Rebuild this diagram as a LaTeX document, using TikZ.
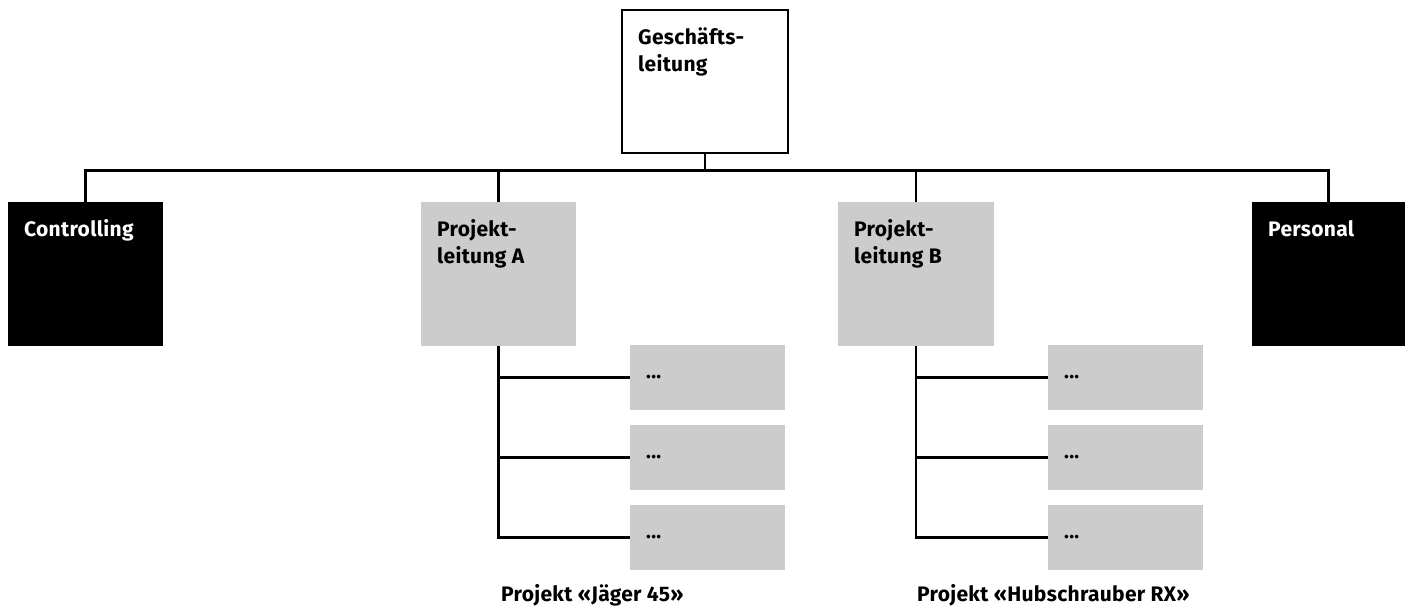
\documentclass[tikz,border=0pt]{standalone}
\usepackage{fontspec}
\setmainfont[LetterSpace=1.5]{Fira Sans}
\usetikzlibrary{calc}
\definecolor{boxgray}{HTML}{CCCCCC}
\begin{document}
\begin{tikzpicture}[x=1pt,y=-1pt,
  box/.style={rectangle, inner sep=0pt, outer sep=0pt, anchor=north west},
  whitebox/.style={box, fill=white, draw=black, line width=1.1pt},
  graybox/.style={box, fill=boxgray},
  blackbox/.style={box, fill=black},
  conn/.style={line width=2.6pt, black},
  lbl/.style={anchor=base west, inner sep=0pt, font=\bfseries\fontsize{21}{27.5}\selectfont},
  dots/.style={anchor=west, inner sep=0pt, font=\bfseries\fontsize{20}{24}\selectfont}
]
\useasboundingbox[fill=white] (0,0) rectangle (1413,608);
\newcommand{\twoline}[2]{\renewcommand{\arraystretch}{1}\begin{tabular}[t]{@{}l@{}}#1\\#2\end{tabular}}

% main boxes
\node[whitebox, minimum width=166pt, minimum height=143pt] (gl) at (622,10) {};
\node[blackbox, minimum width=155pt, minimum height=144pt] (ctrl) at (8,202) {};
\node[graybox, minimum width=155pt, minimum height=144pt] (pa) at (421,202) {};
\node[graybox, minimum width=156pt, minimum height=144pt] (pb) at (838,202) {};
\node[blackbox, minimum width=153pt, minimum height=144pt] (pers) at (1252,202) {};

% sub boxes
\node[graybox, minimum width=155pt, minimum height=65pt] (a1) at (630,345) {};
\node[graybox, minimum width=155pt, minimum height=65pt] (a2) at (630,425) {};
\node[graybox, minimum width=155pt, minimum height=65pt] (a3) at (630,505) {};
\node[graybox, minimum width=155pt, minimum height=65pt] (b1) at (1048,345) {};
\node[graybox, minimum width=155pt, minimum height=65pt] (b2) at (1048,425) {};
\node[graybox, minimum width=155pt, minimum height=65pt] (b3) at (1048,505) {};

% labels
\node[lbl] (tgl) at ($(gl.north west)+(16,34)$) {\twoline{Geschäfts-}{leitung}};
\node[lbl, text=white] (tctrl) at ($(ctrl.north west)+(16,34)$) {Controlling};
\node[lbl] (tpa) at ($(pa.north west)+(16,34)$) {\twoline{Projekt-}{leitung A}};
\node[lbl] (tpb) at ($(pb.north west)+(16,34)$) {\twoline{Projekt-}{leitung B}};
\node[lbl, text=white] (tpers) at ($(pers.north west)+(16,34)$) {Personal};
\foreach \n in {a1,a2,a3,b1,b2,b3}{
  \node[dots] (t\n) at ($(\n.west)+(16,0)$) {...};
}
\node[lbl] (capa) at (501,601) {Projekt «Jäger 45»};
\node[lbl] (capb) at (917,601) {Projekt «Hubschrauber RX»};

% connectors
\coordinate (bus) at (0,170.7);
\draw[conn] (ctrl.north) -- (ctrl.north |- bus) -- (pers.north |- bus) -- (pers.north);
\draw[conn] (gl.south) -- (gl.south |- bus);
\draw[conn] (pa.north) -- (pa.north |- bus);
\draw[conn] (pb.north) -- (pb.north |- bus);

\draw[conn] (pa.south) |- (a3.west);
\draw[conn] (pa.south |- a1.west) -- (a1.west);
\draw[conn] (pa.south |- a2.west) -- (a2.west);
\draw[conn] (pb.south) |- (b3.west);
\draw[conn] (pb.south |- b1.west) -- (b1.west);
\draw[conn] (pb.south |- b2.west) -- (b2.west);
\end{tikzpicture}
\end{document}
